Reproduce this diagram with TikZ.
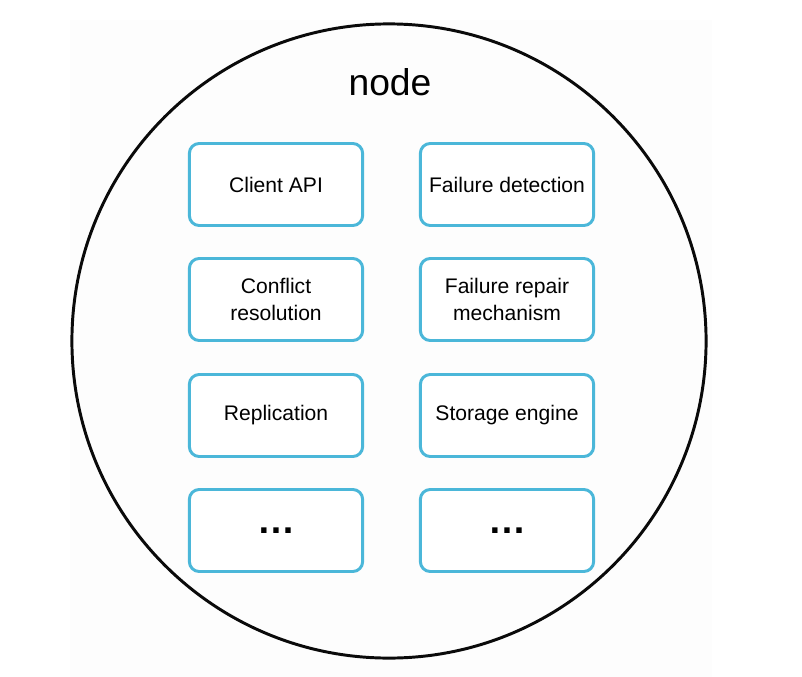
\documentclass[tikz,border=0pt]{standalone}
\usepackage{fontspec}
\setmainfont{Liberation Sans}
\usetikzlibrary{positioning}
\definecolor{ndInk}{HTML}{000000}
\definecolor{ndRing}{HTML}{0A0A0A}
\definecolor{ndBoxStroke}{HTML}{4BB7D9}
\definecolor{ndPage}{HTML}{FDFDFD}

\begin{document}
\begin{tikzpicture}[x=0.025cm,y=-0.025cm,
  font=\fontsize{15}{18.6}\selectfont,text=ndInk,
  ndpart/.style={draw=ndBoxStroke,line width=2.1pt,rounded corners=7pt,fill=white,
    minimum width=4.33cm,minimum height=2.05cm,inner sep=0pt,align=center},
  ndring/.style={circle,draw=ndRing,line width=2.1pt,minimum size=15.85cm,inner sep=0pt},
  nddots/.style={font=\bfseries\fontsize{27}{30}\selectfont}]
  \fill[white] (0,0) rectangle (802,677);
  \fill[ndPage] (70,20) rectangle (712,677);
  \path[use as bounding box] (0,0) rectangle (802,677);

  \node[ndring] (ring) at (389,341) {};
  \node[font=\fontsize{26.5}{30}\selectfont] (title) at (390,82) {node};

  % two columns of components, four rows
  \node[ndpart] (api) at (276,184.5) {Client API};
  \node[ndpart] (detect) at (507,184.5) {Failure detection};
  \node[ndpart] (conflict) at (276,299.5) {Conflict\\resolution};
  \node[ndpart] (repair) at (507,299.5) {Failure repair\\mechanism};
  \node[ndpart] (repl) at (276,415.5) {Replication};
  \node[ndpart] (store) at (507,415.5) {Storage engine};
  \node[ndpart] (moreL) at (276,530.5) {};
  \node[ndpart] (moreR) at (507,530.5) {};
  \foreach \b in {moreL,moreR}
    {\node[nddots] (\b dots) at (\b.center) {\ldots};}
\end{tikzpicture}
\end{document}
